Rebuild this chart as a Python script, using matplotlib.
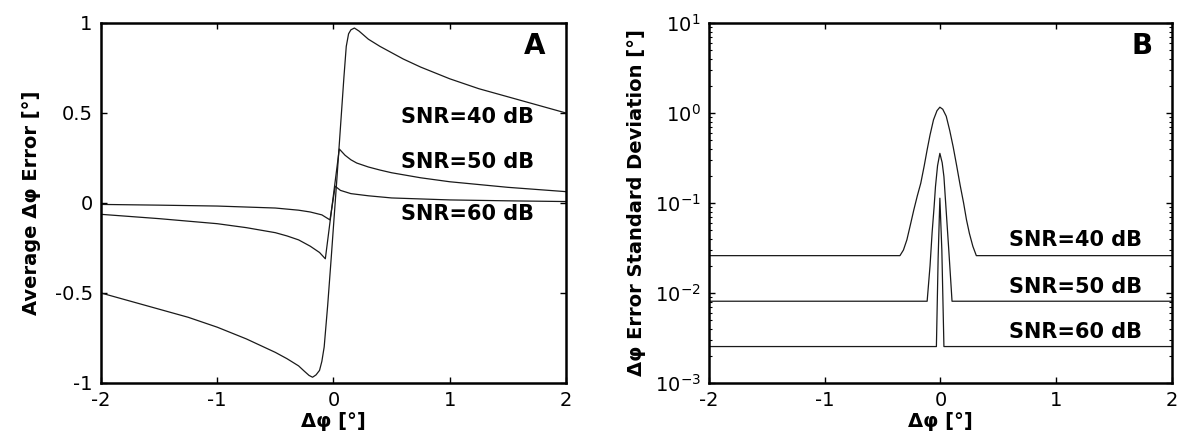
import matplotlib
matplotlib.use("Agg")
import matplotlib.pyplot as plt
import numpy as np

plt.rcParams['font.family'] = ['DejaVu Sans']
plt.rcParams['axes.unicode_minus'] = False

# Panel A: average phase error vs phase difference
dphiA40 = [-2, -1.75, -1.5, -1.25, -1, -0.75, -0.6, -0.5, -0.4, -0.3, -0.25, -0.21, -0.18,
           -0.15, -0.12, -0.1, -0.08, -0.05, -0.02, 0.0, 0.03, 0.06, 0.09, 0.11, 0.13, 0.15,
           0.18, 0.22, 0.3, 0.4, 0.5, 0.6, 0.75, 1, 1.25, 1.5, 1.75, 2]
errA40 = [-0.50, -0.545, -0.59, -0.635, -0.69, -0.755, -0.80, -0.83, -0.865, -0.905, -0.935,
          -0.958, -0.968, -0.955, -0.93, -0.88, -0.80, -0.57, -0.31, -0.13, 0.14, 0.42, 0.70,
          0.87, 0.94, 0.962, 0.972, 0.955, 0.91, 0.87, 0.835, 0.80, 0.755, 0.69, 0.635, 0.59,
          0.545, 0.50]

dphiA50 = [-2, -1.5, -1, -0.75, -0.5, -0.4, -0.3, -0.2, -0.12, -0.07, 0.05, 0.1, 0.15, 0.2,
           0.3, 0.4, 0.5, 0.75, 1, 1.5, 2]
errA50 = [-0.063, -0.087, -0.115, -0.137, -0.165, -0.183, -0.205, -0.24, -0.275, -0.31, 0.30,
          0.265, 0.24, 0.222, 0.20, 0.183, 0.168, 0.14, 0.118, 0.087, 0.063]

dphiA60 = [-2, -1.5, -1, -0.5, -0.3, -0.2, -0.1, -0.03, 0.015, 0.06, 0.15, 0.3, 0.5, 1,
           1.5, 2]
errA60 = [-0.008, -0.012, -0.017, -0.028, -0.04, -0.05, -0.066, -0.094, 0.093, 0.07, 0.052,
          0.04, 0.028, 0.017, 0.012, 0.008]

# Panel B: standard deviation of the phase error (log scale)
dphiB40 = [-2, -0.35, -0.32, -0.29, -0.26, -0.23, -0.2, -0.17, -0.14, -0.115, -0.09, -0.06,
           -0.03, -0.005, 0.02, 0.05, 0.08, 0.11, 0.14, 0.17, 0.2, 0.225, 0.25, 0.28, 0.31, 2]
stdB40 = [0.026, 0.026, 0.030, 0.039, 0.057, 0.084, 0.12, 0.166, 0.26, 0.39, 0.57, 0.84,
          1.06, 1.16, 1.10, 0.92, 0.64, 0.42, 0.26, 0.158, 0.10, 0.065, 0.046, 0.033, 0.026,
          0.026]

dphiB50 = [-2, -0.115, -0.09, -0.072, -0.055, -0.043, -0.025, -0.005, 0.015, 0.03, 0.05,
           0.072, 0.09, 0.10, 2]
stdB50 = [0.0081, 0.0081, 0.02, 0.047, 0.09, 0.152, 0.26, 0.356, 0.28, 0.196, 0.08, 0.030,
          0.013, 0.0081, 0.0081]

dphiB60 = [-2, -0.035, -0.02, -0.005, 0.012, 0.03, 2]
stdB60 = [0.00254, 0.00254, 0.0245, 0.113, 0.03, 0.00254, 0.00254]

snrLabels = ["SNR=40 dB", "SNR=50 dB", "SNR=60 dB"]
labelYA = [0.475, 0.225, -0.063]
labelYB = [0.039, 0.0117, 0.0037]

lineColor = "#1a1a1a"

fig = plt.figure(figsize=(11.84, 4.37), dpi=100)
axA = fig.add_axes([0.0853, 0.1236, 0.3927, 0.8238])
axB = fig.add_axes([0.5988, 0.1236, 0.3910, 0.8238])

axA.plot(dphiA40, errA40, color=lineColor, lw=0.9)
axA.plot(dphiA50, errA50, color=lineColor, lw=0.9)
axA.plot(dphiA60, errA60, color=lineColor, lw=0.9)
axA.set_xlim(-2, 2)
axA.set_ylim(-1, 1)
axA.set_xticks([-2, -1, 0, 1, 2])
axA.set_yticks([-1, -0.5, 0, 0.5, 1])
axA.set_yticklabels(["-1", "-0.5", "0", "0.5", "1"])
axA.set_ylabel("Average \u0394\u03c6 Error [\u00b0]", fontsize=14, fontweight="bold", labelpad=10)
for label, y in zip(snrLabels, labelYA):
    axA.text(1.725, y, label, ha="right", va="center", fontsize=15, fontweight="bold")
axA.text(1.73, 0.87, "A", ha="center", va="center", fontsize=20, fontweight="bold")

axB.semilogy(dphiB40, stdB40, color=lineColor, lw=0.9)
axB.semilogy(dphiB50, stdB50, color=lineColor, lw=0.9)
axB.semilogy(dphiB60, stdB60, color=lineColor, lw=0.9)
axB.set_xlim(-2, 2)
axB.set_ylim(1e-3, 1e1)
axB.set_xticks([-2, -1, 0, 1, 2])
axB.set_ylabel("\u0394\u03c6 Error Standard Deviation [\u00b0]", fontsize=14, fontweight="bold",
               labelpad=6)
for label, y in zip(snrLabels, labelYB):
    axB.text(1.74, y, label, ha="right", va="center", fontsize=15, fontweight="bold")
axB.text(1.74, 10 ** (1 - 23.3 / 90), "B", ha="center", va="center", fontsize=20,
         fontweight="bold")

for ax in [axA, axB]:
    ax.set_xlabel("\u0394\u03c6 [\u00b0]", fontsize=14, fontweight="bold", labelpad=1)
    ax.tick_params(which="both", direction="in", top=True, right=True, labelsize=14, pad=6)
    ax.tick_params(which="major", length=4, width=1)
    ax.tick_params(which="minor", length=2, width=0.8)
    for spine in ax.spines.values():
        spine.set_linewidth(1.8)

fig.savefig("out.png", dpi=100)
